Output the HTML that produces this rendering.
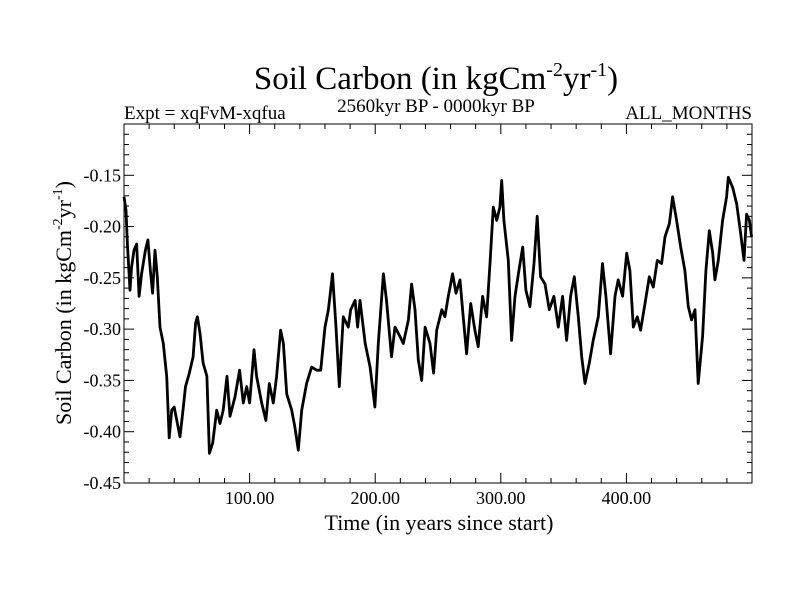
<!DOCTYPE html>
<html><head><meta charset="utf-8"><style>body{margin:0;background:#fff}svg{display:block}text{font-family:"Liberation Serif",serif;fill:#000}</style></head>
<body>
<svg id="chart" width="800" height="600" xmlns="http://www.w3.org/2000/svg">
<text x="436" y="89" font-size="33" text-anchor="middle">Soil Carbon (in kgCm<tspan font-size="20" dy="-13">-2</tspan><tspan dy="13">yr</tspan><tspan font-size="20" dy="-13">-1</tspan><tspan dy="13">)</tspan></text>
<text x="124" y="119" font-size="19">Expt = xqFvM-xqfua</text>
<text x="436" y="112" font-size="19" text-anchor="middle">2560kyr BP - 0000kyr BP</text>
<text x="752" y="119" font-size="19" text-anchor="end">ALL_MONTHS</text>
<text x="439" y="530" font-size="22" text-anchor="middle">Time (in years since start)</text>
<text transform="translate(71,303) rotate(-90)" font-size="22" text-anchor="middle">Soil Carbon (in kgCm<tspan font-size="14" dy="-9">-2</tspan><tspan dy="9">yr</tspan><tspan font-size="14" dy="-9">-1</tspan><tspan dy="9">)</tspan></text>
<g id="axes"></g>
<path id="series" fill="none" stroke="#000" stroke-width="2.8" stroke-linejoin="round"/>
<rect x="124" y="124" width="628" height="359" fill="none" stroke="#000" stroke-width="1"/>
</svg>
<script>
const times=[0,1.6,2.7,4.8,6,8,10,12,14,17,19,21,22.8,24.7,26.5,28.7,31.3,34,36,38,40,42,44.6,47,49,52,55,57,58.4,60.5,63,66,68,70.6,73.8,76.4,79,82,84.4,88.4,92,95,97.7,100,103.5,105.6,109.6,113,115.7,118.9,121.5,124.7,126.9,129.5,133.5,136,138.8,141.5,145.4,149.4,153.4,156.6,160,162.7,166,168.8,171.4,174.6,178.6,180.5,184,186,187.9,192,195.9,199.8,202.5,206.5,209,213,215.8,219.7,222.4,226.4,229,231.7,234.3,237,239.7,243.6,246.5,249,253,255.5,258.2,261.6,264.3,267.5,270.1,272.8,276,279.4,282,285.5,288.7,291.4,294,296.7,299.3,300.7,302.5,306,308.6,311.3,314,317.4,320,323.2,326.4,329,331.7,335.2,338.6,342.3,345.8,349.2,352.4,355.6,358.5,361.7,364.4,367,370.5,373.6,377.6,381,383.7,387.4,390.9,393.5,397,400.2,402.8,405.5,408.7,411.3,414.8,418.2,421.4,424.6,428,430.7,434.2,436.8,440,443.2,446.6,449.3,451.9,454.6,457.2,460.7,463.3,466,468.7,470.5,473.2,476.6,479.8,481.1,484.6,487.8,491,493.6,495.7,497.9,499.7];
const values=[-0.171,-0.184,-0.217,-0.262,-0.24,-0.223,-0.217,-0.268,-0.246,-0.223,-0.213,-0.243,-0.265,-0.223,-0.249,-0.298,-0.314,-0.346,-0.406,-0.379,-0.376,-0.389,-0.405,-0.379,-0.356,-0.343,-0.327,-0.294,-0.288,-0.304,-0.333,-0.346,-0.421,-0.411,-0.379,-0.392,-0.379,-0.346,-0.385,-0.366,-0.34,-0.372,-0.356,-0.372,-0.32,-0.346,-0.372,-0.389,-0.353,-0.372,-0.346,-0.301,-0.314,-0.363,-0.379,-0.395,-0.418,-0.379,-0.353,-0.337,-0.34,-0.34,-0.298,-0.281,-0.246,-0.298,-0.356,-0.288,-0.298,-0.281,-0.272,-0.298,-0.272,-0.314,-0.337,-0.376,-0.314,-0.246,-0.272,-0.327,-0.298,-0.307,-0.314,-0.291,-0.256,-0.281,-0.33,-0.35,-0.298,-0.314,-0.343,-0.301,-0.281,-0.288,-0.268,-0.246,-0.265,-0.252,-0.288,-0.324,-0.275,-0.301,-0.317,-0.268,-0.288,-0.236,-0.181,-0.194,-0.181,-0.155,-0.194,-0.233,-0.311,-0.268,-0.246,-0.22,-0.262,-0.278,-0.236,-0.19,-0.249,-0.256,-0.281,-0.268,-0.298,-0.268,-0.311,-0.268,-0.249,-0.288,-0.327,-0.353,-0.333,-0.311,-0.288,-0.236,-0.268,-0.324,-0.268,-0.252,-0.268,-0.226,-0.243,-0.298,-0.288,-0.301,-0.275,-0.249,-0.259,-0.233,-0.236,-0.21,-0.197,-0.171,-0.194,-0.22,-0.243,-0.278,-0.291,-0.281,-0.353,-0.307,-0.243,-0.204,-0.226,-0.252,-0.233,-0.194,-0.171,-0.152,-0.162,-0.178,-0.207,-0.233,-0.188,-0.194,-0.21];
const yTicks=[-0.45,-0.40,-0.35,-0.30,-0.25,-0.20,-0.15];
const yTickLabels=["-0.45","-0.40","-0.35","-0.30","-0.25","-0.20","-0.15"];
const xTicks=[100,200,300,400];
const xTickLabels=["100.00","200.00","300.00","400.00"];
const L=124,R=752,T=124,B=483,X0=0,X1=500,Y0=-0.45,Y1=-0.10;
const sx=t=>L+(t-X0)/(X1-X0)*(R-L);
const sy=v=>B-(v-Y0)/(Y1-Y0)*(B-T);
const NS="http://www.w3.org/2000/svg";
const axes=document.getElementById('axes');
function line(x1,y1,x2,y2,name){const l=document.createElementNS(NS,'line');l.setAttribute('x1',x1);l.setAttribute('y1',y1);l.setAttribute('x2',x2);l.setAttribute('y2',y2);l.setAttribute('stroke','#000');l.setAttribute('stroke-width','1');


axes.appendChild(l);}
for(let t=20;t<500;t+=20){const major=xTicks.includes(t);const len=major?10:5;const x=sx(t);line(x,B,x,B-len,'x-tick');line(x,T,x,T+len,'x-tick-top');}
for(let i=0;i<35;i++){const v=Y0+i*0.01;const major=i%5===0;const len=major?10:5;const y=sy(v);line(L,y,L+len,y,'y-tick');line(R,y,R-len,y,'y-tick-right');}
yTicks.forEach((v,i)=>{const t=document.createElementNS(NS,'text');t.setAttribute('x',121);t.setAttribute('y',sy(v)+6);t.setAttribute('font-size','18');t.setAttribute('text-anchor','end');t.textContent=yTickLabels[i];


axes.appendChild(t);});
xTicks.forEach((v,i)=>{const t=document.createElementNS(NS,'text');t.setAttribute('x',sx(v));t.setAttribute('y',504);t.setAttribute('font-size','18');t.setAttribute('text-anchor','middle');t.textContent=xTickLabels[i];


axes.appendChild(t);});
document.getElementById('series').setAttribute('d',times.map((t,i)=>(i?'L':'M')+sx(t).toFixed(1)+','+sy(values[i]).toFixed(1)).join(''));
</script>
</body></html>
